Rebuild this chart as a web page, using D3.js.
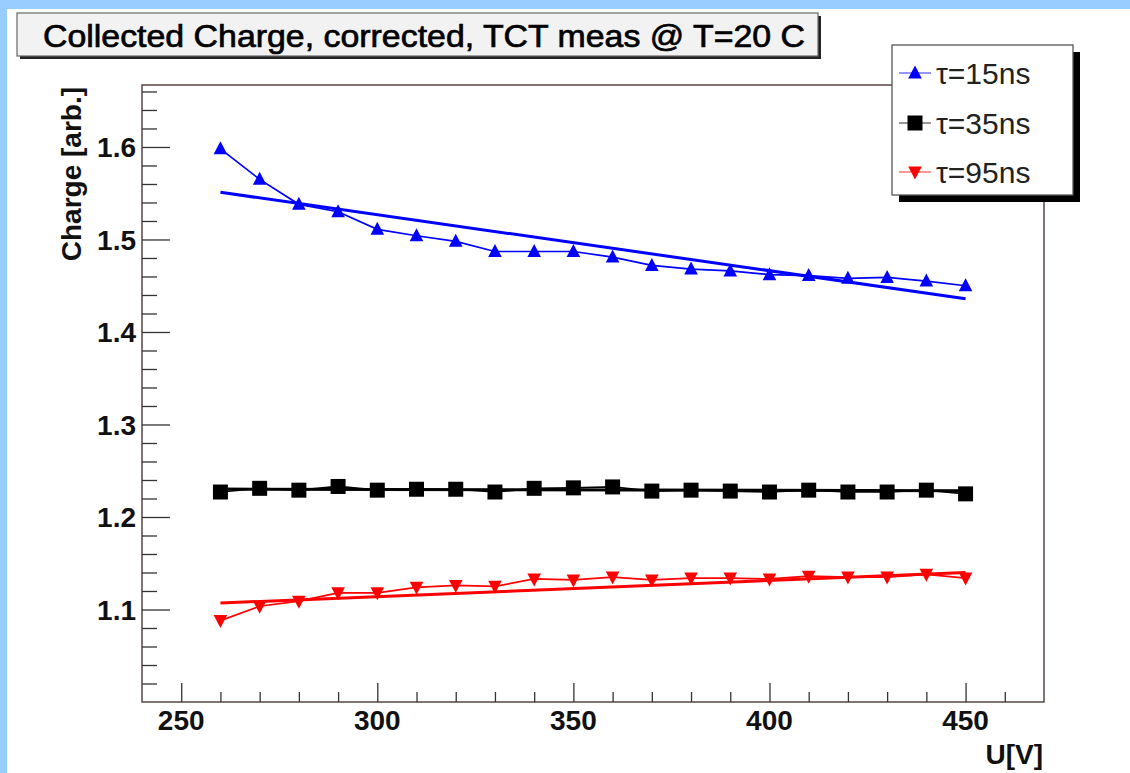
<!DOCTYPE html>
<html>
<head>
<meta charset="utf-8">
<script src="https://cdn.jsdelivr.net/npm/d3@7"></script>
<style>
  html, body { margin: 0; padding: 0; background: #99ccff; }
  svg { display: block; }
</style>
</head>
<body>
<svg id="chart" width="1130" height="773"></svg>
<script>
// Bias voltages (V) at which the charge was measured
const voltages = [260, 270, 280, 290, 300, 310, 320, 330, 340, 350,
                  360, 370, 380, 390, 400, 410, 420, 430, 440, 450];

// Collected charge for each shaping time constant
const charge15 = [1.598, 1.565, 1.538, 1.530, 1.511, 1.504, 1.498, 1.487, 1.487, 1.487,
                  1.481, 1.472, 1.468, 1.466, 1.462, 1.461, 1.458, 1.459, 1.455, 1.450];
const charge35 = [1.227, 1.231, 1.229, 1.233, 1.229, 1.230, 1.230, 1.227, 1.231, 1.2315,
                  1.2325, 1.228, 1.229, 1.228, 1.227, 1.229, 1.227, 1.227, 1.229, 1.225];
const charge95 = [1.088, 1.1035, 1.109, 1.118, 1.118, 1.124, 1.126, 1.125, 1.133, 1.132,
                  1.135, 1.132, 1.134, 1.134, 1.133, 1.136, 1.135, 1.135, 1.138, 1.134];

// Straight-line fits: [U, charge] at both ends of the fitted range
const fit15 = [[260, 1.551], [450, 1.436]];
const fit35 = [[260, 1.2302], [450, 1.2285]];
const fit95 = [[260, 1.107], [450, 1.140]];

const seriesLabels = ["τ=15ns", "τ=35ns", "τ=95ns"];
const xTicks = [250, 300, 350, 400, 450];
const yTicks = [1.1, 1.2, 1.3, 1.4, 1.5, 1.6];
const xDomain = [240, 470];
const yDomain = [1.0, 1.667];

const titleText = "Collected Charge, corrected, TCT meas @ T=20 C";
const xTitle = "U[V]";
const yTitle = "Charge [arb.]";

const svg = d3.select("#chart");
const font = "'Liberation Sans', Arial, Helvetica, sans-serif";
const labelSize = 28;

// Canvas (white) inside the light-blue window border
svg.append("rect").attr("x", 7).attr("y", 9).attr("width", 1123).attr("height", 764).attr("fill", "#ffffff");

const frame = { left: 142, right: 1044, top: 85, bottom: 702 };
const x = d3.scaleLinear().domain(xDomain).range([frame.left, frame.right]);
const y = d3.scaleLinear().domain(yDomain).range([frame.bottom, frame.top]);

// Plot frame
svg.append("rect")
  .attr("x", frame.left).attr("y", frame.top)
  .attr("width", frame.right - frame.left).attr("height", frame.bottom - frame.top)
  .attr("fill", "none").attr("stroke", "#5a4646").attr("stroke-width", 1.5);

// Y axis: major ticks every 0.1, four minor ticks in between
const yMinor = d3.range(1.02, 1.667, 0.02).filter(v => Math.abs(Math.round(v * 10) - v * 10) > 1e-6);
const yAxisMajor = d3.axisRight(y).tickValues(yTicks).tickSize(28).tickFormat("");
const yAxisMinor = d3.axisRight(y).tickValues(yMinor).tickSize(15).tickFormat("");
[yAxisMajor, yAxisMinor].forEach(ax => {
  const g = svg.append("g").attr("transform", `translate(${frame.left},0)`).call(ax);
  g.select(".domain").remove();
  g.selectAll("line").attr("stroke", "#333").attr("stroke-width", 1.3);
});
svg.append("g").selectAll("text").data(yTicks).join("text")
  .attr("x", 136).attr("y", d => y(d)).attr("dy", "0.36em")
  .attr("text-anchor", "end")
  .attr("font-family", font).attr("font-weight", "bold").attr("font-size", labelSize)
  .attr("fill", "#111")
  .text(d => d3.format(".1f")(d));

// X axis: major ticks every 50, minor every 10
const xMinor = d3.range(250, 470, 10).filter(v => v % 50 !== 0);
const xAxisMajor = d3.axisTop(x).tickValues(xTicks).tickSize(19).tickFormat("");
const xAxisMinor = d3.axisTop(x).tickValues(xMinor).tickSize(10).tickFormat("");
[xAxisMajor, xAxisMinor].forEach(ax => {
  const g = svg.append("g").attr("transform", `translate(0,${frame.bottom})`).call(ax);
  g.select(".domain").remove();
  g.selectAll("line").attr("stroke", "#333").attr("stroke-width", 1.3);
});
svg.append("g").selectAll("text").data(xTicks).join("text")
  .attr("x", d => x(d)).attr("y", 730)
  .attr("text-anchor", "middle")
  .attr("font-family", font).attr("font-weight", "bold").attr("font-size", labelSize)
  .attr("fill", "#111")
  .text(d => d);

// Axis titles
svg.append("text")
  .attr("x", 1043).attr("y", 764).attr("text-anchor", "end")
  .attr("font-family", font).attr("font-weight", "bold").attr("font-size", labelSize)
  .attr("fill", "#111").text(xTitle);
svg.append("text")
  .attr("transform", `translate(81,${frame.top + 2}) rotate(-90)`)
  .attr("text-anchor", "end")
  .attr("font-family", font).attr("font-weight", "bold").attr("font-size", labelSize)
  .attr("fill", "#111").text(yTitle);

// Series
const series = [
  { values: charge15, fit: fit15, color: "#0000ff", marker: "up" },
  { values: charge35, fit: fit35, color: "#000000", marker: "square" },
  { values: charge95, fit: fit95, color: "#ff0000", marker: "down" }
];

const line = d3.line().x(d => x(d[0])).y(d => y(d[1]));

function markerPath(type) {
  if (type === "square") return "M-7.5,-7.5H7.5V7.5H-7.5Z";
  if (type === "up") return "M0,-7.5L6.8,5.5H-6.8Z";
  return "M0,7.5L6.8,-5.5H-6.8Z";
}

const plot = svg.append("g");
series.forEach(s => {
  const pts = voltages.map((v, i) => [v, s.values[i]]);
  plot.append("path").attr("d", line(pts))
    .attr("fill", "none").attr("stroke", s.color).attr("stroke-width", 1.7);
  plot.append("path").attr("d", line(s.fit))
    .attr("fill", "none").attr("stroke", s.color).attr("stroke-width", 3);
  plot.append("g").selectAll("path").data(pts).join("path")
    .attr("transform", d => `translate(${x(d[0])},${y(d[1])})`)
    .attr("d", markerPath(s.marker))
    .attr("fill", s.color);
});

// Legend box with drop shadow
const lg = { x: 892, y: 45, w: 181, h: 150 };
svg.append("rect").attr("x", lg.x + 7).attr("y", lg.y + 7).attr("width", lg.w).attr("height", lg.h).attr("fill", "#000");
svg.append("rect").attr("x", lg.x).attr("y", lg.y).attr("width", lg.w).attr("height", lg.h)
  .attr("fill", "#fff").attr("stroke", "#555").attr("stroke-width", 1.3);
const rowY = [73, 123, 172];
series.forEach((s, i) => {
  const light = d3.interpolateRgb(s.color, "#fff")(0.45);
  svg.append("line").attr("x1", 899).attr("x2", 931).attr("y1", rowY[i]).attr("y2", rowY[i])
    .attr("stroke", light).attr("stroke-width", 1.5);
  svg.append("path").attr("transform", `translate(915,${rowY[i]})`)
    .attr("d", markerPath(s.marker)).attr("fill", s.color);
  svg.append("text").attr("x", 936).attr("y", rowY[i]).attr("dy", "0.36em")
    .attr("font-family", font).attr("font-size", 30).attr("fill", "#222")
    .text(seriesLabels[i]);
});

// Title box with drop shadow
const tb = { x: 17, y: 13, w: 801, h: 43 };
svg.append("rect").attr("x", tb.x + 3).attr("y", tb.y + 3).attr("width", tb.w).attr("height", tb.h).attr("fill", "#222");
svg.append("rect").attr("x", tb.x).attr("y", tb.y).attr("width", tb.w).attr("height", tb.h)
  .attr("fill", "#f2f2f2").attr("stroke", "#666").attr("stroke-width", 1.2);
svg.append("text").attr("x", 424).attr("y", 47)
  .attr("text-anchor", "middle")
  .attr("font-family", font).attr("font-size", 32).attr("fill", "#000")
  .attr("stroke", "#000").attr("stroke-width", 0.7)
  .attr("textLength", 762).attr("lengthAdjust", "spacingAndGlyphs")
  .text(titleText);
</script>
</body>
</html>
